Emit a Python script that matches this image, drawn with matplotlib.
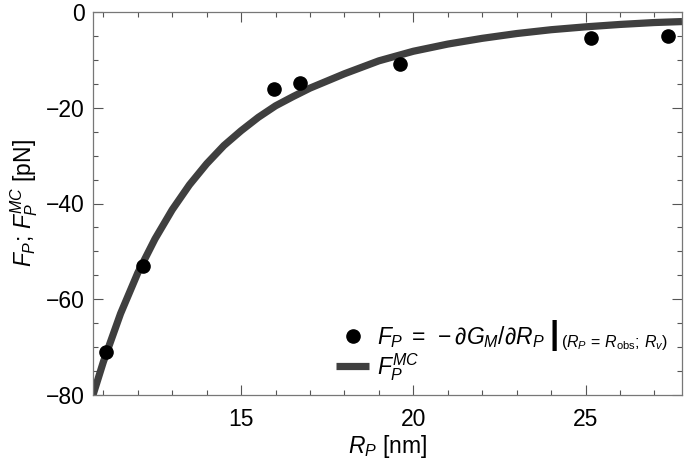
import matplotlib
matplotlib.use("Agg")
import matplotlib.pyplot as plt
from matplotlib.ticker import MultipleLocator

plt.rcParams['font.family'] = ['Liberation Sans', 'DejaVu Sans']
plt.rcParams['mathtext.fontset'] = 'custom'
plt.rcParams['mathtext.rm'] = 'Liberation Sans'
plt.rcParams['mathtext.it'] = 'Liberation Sans:italic'
plt.rcParams['mathtext.bf'] = 'Liberation Sans:bold'
plt.rcParams['axes.unicode_minus'] = True

# Data points (F_P from derivative)
rp_points = [11.09, 12.15, 15.95, 16.72, 19.6, 25.17, 27.39]
fp_points = [-71.1, -53.0, -16.0, -14.8, -10.9, -5.5, -5.0]

# Curve F_P^MC
rp_curve = [10.7, 11.0, 11.5, 12.0, 12.5, 13.0, 13.5, 14.0, 14.5, 15.0, 15.5, 16.0, 16.5,
            17.0, 17.5, 18.0, 19.0, 20.0, 21.0, 22.0, 23.0, 24.0, 25.0, 26.0, 27.0, 27.8]
fp_curve = [-80.0, -73.1, -63.0, -54.5, -47.4, -41.3, -36.1, -31.7, -27.9, -24.8, -22.0, -19.6, -17.7,
            -15.9, -14.4, -12.9, -10.2, -8.2, -6.7, -5.5, -4.5, -3.7, -3.1, -2.6, -2.2, -2.0]

x_ticks = [15, 20, 25]
y_ticks = [0, -20, -40, -60, -80]

fig = plt.figure(figsize=(6.86, 4.67), dpi=100)
ax = fig.add_axes([93/686, 1-395/467, (682-93)/686, (395-12)/467])

line, = ax.plot(rp_curve, fp_curve, color='#3f3f3f', lw=5.2, solid_capstyle='butt', zorder=2,
                label=r'$F_P^{MC}$')
pts, = ax.plot(rp_points, fp_points, 'o', color='black', ms=9.5, zorder=3,
               label=r'$F_P\;=\;-\partial G_M/\partial R_P$')

ax.set_xlim(10.7, 27.8)
ax.set_ylim(-80, 0)
ax.set_xticks(x_ticks)
ax.set_yticks(y_ticks)
ax.xaxis.set_minor_locator(MultipleLocator(1))
ax.yaxis.set_minor_locator(MultipleLocator(5))
ax.tick_params(which='both', direction='in', top=True, right=True, color='#555555',
               width=0.8, labelsize=16.5, labelcolor='black')
ax.tick_params(which='major', length=7)
ax.tick_params(which='minor', length=3.5)
ax.tick_params(axis='x', pad=9)
ax.tick_params(axis='y', pad=6)
for s in ax.spines.values():
    s.set_color('#777777')
    s.set_linewidth(0.9)

ax.set_xlabel(r'$R_P$ [nm]', fontsize=16.5, labelpad=2)
ax.set_ylabel(r'$F_P$; $F_P^{MC}$ [pN]', fontsize=16.5, labelpad=4)

leg = ax.legend(handles=[pts, line], loc='lower left', frameon=False, fontsize=16.5,
                handlelength=1.45, handletextpad=0.35, borderaxespad=0.0, labelspacing=0.05,
                borderpad=0.2, bbox_to_anchor=(0.405, 0.02))
leg.set_zorder(5)

t0 = leg.get_texts()[0]
bar = ax.annotate('|', xy=(1, 0.5), xycoords=t0, xytext=(3, 1), textcoords='offset points',
                  fontsize=24, ha='left', va='center', fontweight='bold', zorder=10)
ax.annotate(r'$(R_P\,=\,R_{\rm obs};\,R_v)$', xy=(1, 0.5), xycoords=bar, xytext=(2, -5),
            textcoords='offset points', fontsize=11.5, ha='left', va='center', zorder=11)

fig.savefig('out.png', dpi=100)
